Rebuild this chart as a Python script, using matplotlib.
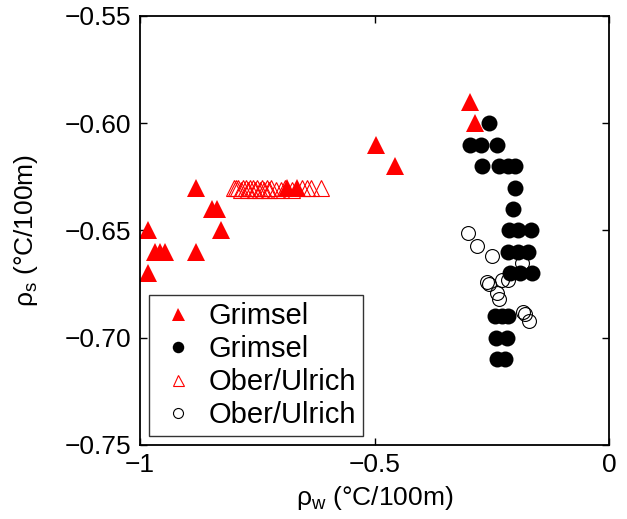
import numpy as np
import matplotlib
matplotlib.use('Agg')
import matplotlib.pyplot as plt

plt.rcParams['font.family'] = ['Liberation Sans', 'DejaVu Sans']
plt.rcParams['mathtext.fontset'] = 'custom'
plt.rcParams['mathtext.rm'] = 'Liberation Sans'
plt.rcParams['mathtext.it'] = 'Liberation Sans'

# Grimsel, filled red triangles
grim_tri_w = [-0.983, -0.983, -0.968, -0.957, -0.947, -0.88, -0.88, -0.847, -0.836, -0.827,
              -0.687, -0.665, -0.497, -0.456, -0.296, -0.286]
grim_tri_s = [-0.65, -0.67, -0.66, -0.66, -0.66, -0.63, -0.66, -0.64, -0.64, -0.65,
              -0.63, -0.63, -0.61, -0.62, -0.59, -0.60]

# Grimsel, filled black circles
grim_circ_w = [-0.255,
               -0.297, -0.274, -0.238,
               -0.270, -0.234, -0.215, -0.200,
               -0.200,
               -0.205,
               -0.213, -0.195, -0.166,
               -0.215, -0.194, -0.172,
               -0.211, -0.190, -0.164,
               -0.243, -0.228, -0.215,
               -0.240, -0.217,
               -0.238, -0.222]
grim_circ_s = [-0.60,
               -0.61, -0.61, -0.61,
               -0.62, -0.62, -0.62, -0.62,
               -0.63,
               -0.64,
               -0.65, -0.65, -0.65,
               -0.66, -0.66, -0.66,
               -0.67, -0.67, -0.67,
               -0.69, -0.69, -0.69,
               -0.70, -0.70,
               -0.71, -0.71]

# Ober/Ulrich, open red triangles
ober_tri_w = [-0.80, -0.795, -0.79, -0.785, -0.78, -0.775, -0.77, -0.765, -0.76, -0.755,
              -0.75, -0.745, -0.74, -0.735, -0.73, -0.725, -0.72, -0.71, -0.70, -0.69,
              -0.675, -0.655, -0.645, -0.635, -0.615]
ober_tri_s = [-0.63, -0.63, -0.63, -0.631, -0.63, -0.63, -0.631, -0.63, -0.63, -0.631,
              -0.63, -0.631, -0.63, -0.631, -0.63, -0.631, -0.63, -0.631, -0.631, -0.63,
              -0.631, -0.63, -0.63, -0.63, -0.63]

# Ober/Ulrich, open black circles
ober_circ_w = [-0.300, -0.282, -0.250, -0.186, -0.260, -0.256, -0.228, -0.215, -0.239,
               -0.234, -0.183, -0.179, -0.170]
ober_circ_s = [-0.651, -0.657, -0.662, -0.665, -0.674, -0.675, -0.673, -0.673, -0.679,
               -0.682, -0.688, -0.689, -0.692]

fig = plt.figure(figsize=(6.27, 5.19), dpi=100)
ax = fig.add_axes([0.2233, 0.1426, 0.7480, 0.8266])

ax.plot(grim_tri_w, grim_tri_s, '^', color='red', markersize=13, markeredgewidth=0,
        label='Grimsel')
ax.plot(grim_circ_w, grim_circ_s, 'o', color='black', markersize=11.5, markeredgewidth=0,
        label='Grimsel')
ax.plot(ober_tri_w, ober_tri_s, '^', markerfacecolor='none', markeredgecolor='red',
        markersize=11, markeredgewidth=0.8, label='Ober/Ulrich')
ax.plot(ober_circ_w, ober_circ_s, 'o', markerfacecolor='none', markeredgecolor='black',
        markersize=10, markeredgewidth=0.8, label='Ober/Ulrich')

ax.set_xlim(-1, 0)
ax.set_ylim(-0.75, -0.55)
ax.set_xticks([-1, -0.5, 0])
ax.set_xticklabels(['\u22121', '\u22120.5', '0'])
yt = [-0.75, -0.70, -0.65, -0.60, -0.55]
ax.set_yticks(yt)
ax.set_yticklabels(['\u2212%.2f' % abs(v) for v in yt])
ax.tick_params(direction='in', length=5, width=1, top=True, right=True,
               labelsize=19, pad=6)
for s in ax.spines.values():
    s.set_linewidth(1.3)

ax.set_xlabel(r'$\rho_\mathrm{w}$ (°C/100m)', fontsize=19, labelpad=5)
ax.set_ylabel(r'$\rho_\mathrm{s}$ (°C/100m)', fontsize=19, labelpad=18)

leg = ax.legend(loc='lower left', fontsize=21, markerscale=0.72, frameon=True,
                fancybox=False, edgecolor='black', borderpad=0.25, labelspacing=0.17,
                handlelength=1.5, handletextpad=0.3, borderaxespad=0.3)
leg.get_frame().set_linewidth(1.0)

fig.savefig('out.png', dpi=100)
